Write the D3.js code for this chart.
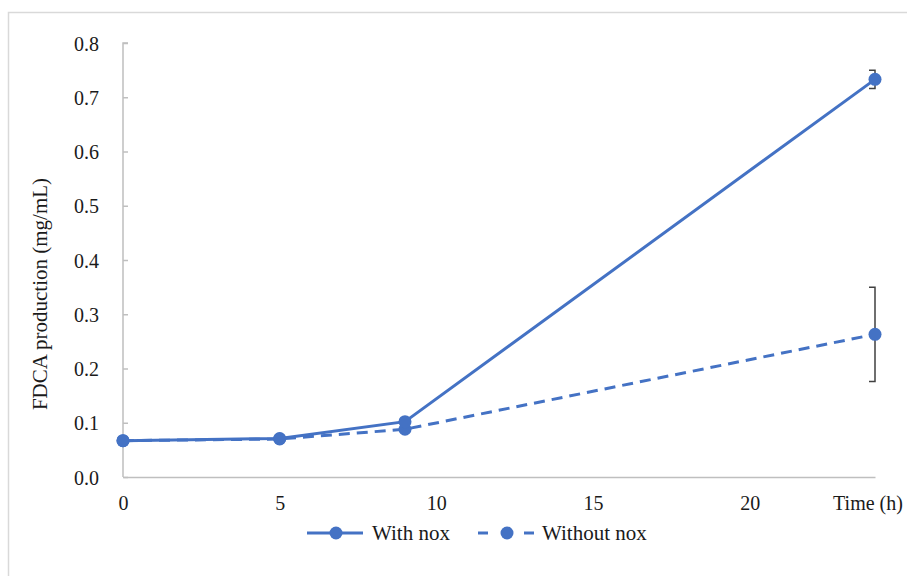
<!DOCTYPE html>
<html><head><meta charset="utf-8">
<script src="https://cdn.jsdelivr.net/npm/d3@7"></script>
<style>body{margin:0;background:#fff}svg{display:block}</style>
</head><body><svg id="c" width="907" height="576" style="font-family:'Liberation Serif',serif"></svg>
<script>
const times = [0, 5, 9, 24];
const withNox = [0.067, 0.071, 0.102, 0.733];
const withoutNox = [0.067, 0.070, 0.088, 0.263];
const withNoxErr = [0, 0, 0, 0.017];
const withoutNoxErr = [0, 0, 0, 0.087];
const xTicks = [0, 5, 10, 15, 20];
const yTicks = [0, 0.1, 0.2, 0.3, 0.4, 0.5, 0.6, 0.7, 0.8];
const seriesNames = ["With nox", "Without nox"];

const FONT = "'Liberation Serif', serif";
const TXT = "#1a1a1a";
const svg = d3.select("#c");
const color = "#4472C4";
// chart border
svg.append("path").attr("d","M8.5,576V12.5H907").attr("fill","none").attr("stroke","#d9d9d9").attr("stroke-width",1.5);

const x = d3.scaleLinear().domain([0,24]).range([123,875]);
const y = d3.scaleLinear().domain([0,0.8]).range([477,43]);

// y axis
const ya = svg.append("g").attr("transform","translate(123,0)")
  .call(d3.axisRight(y).tickValues(yTicks).tickSize(5).tickFormat(d3.format(".1f")));
ya.attr("font-family",null).style("font-family",FONT);
ya.select(".domain").attr("stroke","#bfbfbf").attr("stroke-width",1.5).attr("d","M5,43H0V477");
ya.selectAll(".tick line").attr("stroke","#bfbfbf").attr("stroke-width",1.5);
ya.selectAll(".tick text").attr("x",-24).attr("text-anchor","end").attr("dy","0.35em").attr("fill",TXT).style("font-size","20px").style("font-family",FONT);

// x axis
const xa = svg.append("g").attr("transform","translate(0,477)")
  .call(d3.axisBottom(x).tickValues(xTicks).tickSize(0));
xa.attr("font-family",null).style("font-family",FONT);
xa.select(".domain").attr("stroke","#bfbfbf").attr("stroke-width",1.5);
xa.selectAll(".tick text").attr("y",26).attr("dy","0.35em").attr("fill",TXT).style("font-size","20px").style("font-family",FONT);

svg.append("text").attr("x",868).attr("y",503).attr("dy","0.35em").attr("text-anchor","middle").style("font-size","20px").style("font-family",FONT).attr("fill",TXT).text("Time (h)");
svg.append("text").attr("transform","translate(47,294) rotate(-90)").attr("text-anchor","middle").style("font-size","21px").style("font-family",FONT).attr("fill",TXT).text("FDCA production (mg/mL)");

const line = d3.line().x(d=>x(d[0])).y(d=>y(d[1]));
const series = [
  {name:seriesNames[0], vals:withNox, err:withNoxErr, dash:null},
  {name:seriesNames[1], vals:withoutNox, err:withoutNoxErr, dash:"11,7"}
];
// error bars
series.forEach(s=>{
  s.vals.forEach((v,i)=>{
    if(!s.err[i]) return;
    const cx = x(times[i]), y1=y(v+s.err[i]), y2=y(v-s.err[i]);
    svg.append("path").attr("d",`M${cx-6},${y1}H${cx}V${y2}H${cx-6}`).attr("fill","none").attr("stroke","#404040").attr("stroke-width",1.5);
  });
});
series.slice().reverse().forEach(s=>{
  const pts = times.map((t,i)=>[t,s.vals[i]]);
  svg.append("path").attr("d",line(pts)).attr("fill","none").attr("stroke",color).attr("stroke-width",3).attr("stroke-dasharray",s.dash);
  svg.selectAll(null).data(pts).enter().append("circle").attr("cx",d=>x(d[0])).attr("cy",d=>y(d[1])).attr("r",6.5).attr("fill",color);
});

// legend
const lg = [{x0:307,tx:372},{x0:478,tx:542}];
series.forEach((s,i)=>{
  const g = svg.append("g");
  const x0 = lg[i].x0;
  if (s.dash) {
    g.append("line").attr("x1",x0).attr("x2",x0+10).attr("y1",533).attr("y2",533).attr("stroke",color).attr("stroke-width",3);
    g.append("line").attr("x1",x0+46).attr("x2",x0+56).attr("y1",533).attr("y2",533).attr("stroke",color).attr("stroke-width",3);
  } else {
    g.append("line").attr("x1",x0).attr("x2",x0+56).attr("y1",533).attr("y2",533).attr("stroke",color).attr("stroke-width",3);
  }
  g.append("circle").attr("cx",x0+29).attr("cy",533).attr("r",6.5).attr("fill",color);
  g.append("text").attr("x",lg[i].tx).attr("y",533).attr("dy","0.35em").style("font-size","21px").style("font-family",FONT).attr("fill",TXT).text(s.name);
});
</script></body></html>
